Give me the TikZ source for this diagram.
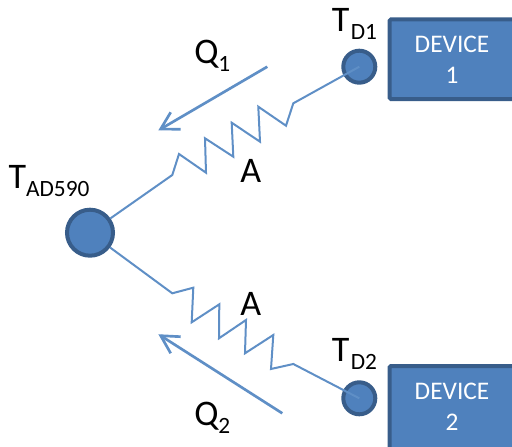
\documentclass[tikz,border=0pt]{standalone}
\usepackage{fontspec}
\setmainfont{Carlito}
\usetikzlibrary{arrows.meta}
\definecolor{fillblue}{HTML}{4F81BD}
\definecolor{edgeblue}{HTML}{385D8A}
\definecolor{wireblue}{HTML}{5F8FC6}
\newcommand{\bigT}[1]{{\fontsize{27}{27}\selectfont #1}}
\newcommand{\subT}[1]{\raisebox{-6pt}{\fontsize{17.5}{17.5}\selectfont #1}}
\tikzset{
  sensor/.style={circle,draw=edgeblue,line width=3pt,fill=fillblue,inner sep=0pt,minimum size=#1},
  devicebox/.style={draw=edgeblue,line width=3pt,fill=fillblue,rounded corners=1pt,anchor=north west,inner sep=0pt},
  wire/.style={draw=wireblue,line width=1.5pt,line join=miter},
  flow/.style={draw=wireblue,line width=2pt},
  lbl/.style={anchor=base west,inner sep=0pt,text=black},
  devtext/.style={anchor=base,inner sep=0pt,text=white,font=\fontsize{19}{19}\selectfont}
}
\begin{document}
\begin{tikzpicture}[x=0.75pt,y=-0.75pt]
\useasboundingbox (0,0) rectangle (512,447);
\clip (0,0) rectangle (512,447);
% devices
\node[devicebox,minimum width=130*0.75pt,minimum height=79.7*0.75pt] (dev1) at (387.7,17.3) {};
\node[devicebox,minimum width=130*0.75pt,minimum height=90*0.75pt] (dev2) at (387.7,364) {};
\node[devtext] (dev1a) at (452,52.3) {DEVICE};
\node[devtext] (dev1b) at (452,83.3) {1};
\node[devtext] (dev2a) at (452,399) {DEVICE};
\node[devtext] (dev2b) at (452,430.7) {2};
% sensors
\node[sensor=32*0.75pt] (d1) at (359.3,66.7) {};
\node[sensor=32*0.75pt] (d2) at (359.3,398.3) {};
\node[sensor=46*0.75pt] (ad) at (90,232.7) {};
% resistive links
\path[wire] (ad) -- (172.3,175) -- (179,154) -- (206,172.7) -- (205,138.3) -- (233.3,156.7) -- (231.7,122.7) -- (260,141.7) -- (258.3,106.7) -- (286,125.7) -- (293.3,103.3) -- (d1.center);
\path[wire] (ad) -- (172.3,293.3) -- (193.3,287.7) -- (191.7,322.3) -- (219.3,304.3) -- (219,338.3) -- (246,320) -- (245,353.3) -- (273.3,335) -- (271,369) -- (293.3,364) -- (d2.center);
% heat flow arrows
\coordinate (q1s) at (267.3,66.7);
\coordinate (q1e) at (160.7,129);
\coordinate (q2s) at (282.3,413.3);
\coordinate (q2e) at (160.7,335.7);
\path[flow] (q1s) -- (q1e);
\path[flow,line join=miter] (170.7,112.3) -- (q1e) -- (180.7,129.3);
\path[flow] (q2s) -- (q2e);
\path[flow,line join=miter] (180.7,336.7) -- (q2e) -- (170.7,353.3);
% labels
\node[lbl] (tad) at (8.3,188) {\bigT{T}\subT{AD590}};
\node[lbl] (td1) at (331.7,31.7) {\bigT{T}\subT{\kern1pt D1}};
\node[lbl] (td2) at (331.7,361.7) {\bigT{T}\subT{\kern1pt D2}};
\node[lbl] (q1) at (194,63) {\bigT{Q}\subT{1}};
\node[lbl] (q2) at (194,425) {\bigT{Q}\subT{2}};
\node[lbl] (a1) at (240,182.3) {\bigT{A}};
\node[lbl] (a2) at (240,315) {\bigT{A}};
\end{tikzpicture}
\end{document}
